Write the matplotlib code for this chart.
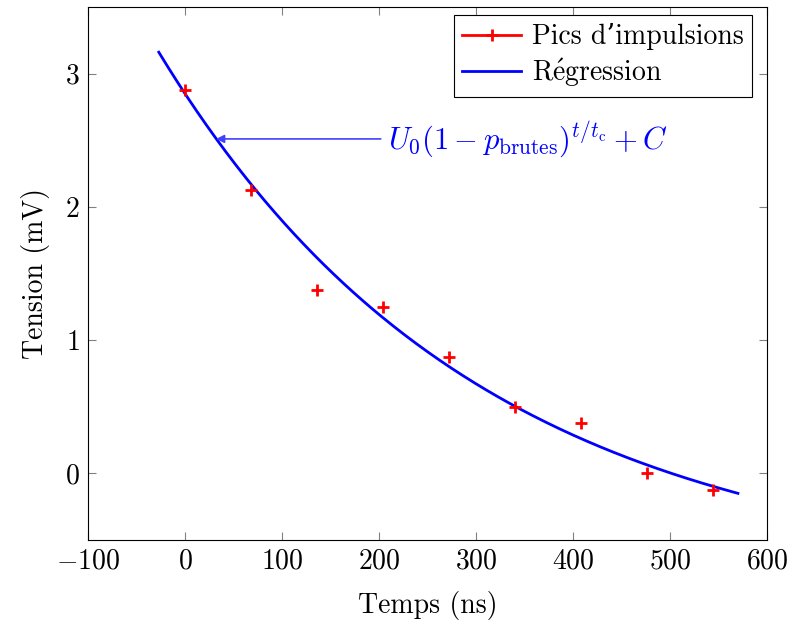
import numpy as np
import matplotlib

matplotlib.use("Agg")
import matplotlib.pyplot as plt
from matplotlib.lines import Line2D

plt.rcParams["font.family"] = ["cmr10", "DejaVu Serif"]
plt.rcParams["mathtext.fontset"] = "cm"
plt.rcParams["axes.formatter.use_mathtext"] = True
plt.rcParams["font.size"] = 20

# mesures : pics d'impulsions
temps_ns = [0, 68, 136, 204, 272, 340, 408, 476, 544]
tension_mv = [2.875, 2.125, 1.375, 1.25, 0.875, 0.5, 0.375, 0.0, -0.125]

# paramètres de la régression U0 (1 - p)^(t/tc) + C
U0 = 3.65
p_brutes = 0.186
t_c = 68.0
C = -0.8
t_min, t_max = -27, 570

t = np.linspace(t_min, t_max, 300)
u = U0 * (1 - p_brutes) ** (t / t_c) + C

fig = plt.figure(figsize=(7.87, 6.25), dpi=100)
ax = fig.add_axes([0.1118, 0.136, 0.8628, 0.8528])

ax.plot(t, u, color="#0000ff", lw=2)
ax.plot(temps_ns, tension_mv, ls="none", marker="+", color="red",
        ms=8, mew=2)

ax.set_xlim(-100, 600)
ax.set_ylim(-0.5, 3.5)
ax.set_xticks(np.arange(-100, 601, 100))
ax.set_yticks([0, 1, 2, 3])
ax.tick_params(direction="in", top=True, right=True, length=6,
               color="#808080", labelsize=20, pad=6)
ax.set_xlabel("Temps (ns)", labelpad=12)
ax.set_ylabel("Tension (mV)", labelpad=11)

ax.annotate(r"$U_0(1-p_{\mathrm{brutes}})^{t/t_{\mathrm{c}}}+C$",
            xy=(32, 2.51), xytext=(209, 2.51), color="#0000ff",
            fontsize=22, va="center",
            arrowprops=dict(arrowstyle="-|>", color="#4040ff", lw=1.2,
                            mutation_scale=12, shrinkA=3, shrinkB=0))

handles = [
    Line2D([], [], color="red", lw=2, marker="+", ms=8, mew=2),
    Line2D([], [], color="#0000ff", lw=2),
]
labels = ["Pics d’impulsions", r"R$\acute{\mathrm{e}}$gression"]
leg = ax.legend(handles, labels, loc="upper right",
                fancybox=False, framealpha=1, edgecolor="black",
                fontsize=20, handlelength=2.1, borderpad=0.3,
                labelspacing=0.2, handletextpad=0.4, borderaxespad=0,
                bbox_to_anchor=(0.978, 0.985))
leg.get_frame().set_linewidth(0.8)

fig.savefig("out.png", dpi=100)
